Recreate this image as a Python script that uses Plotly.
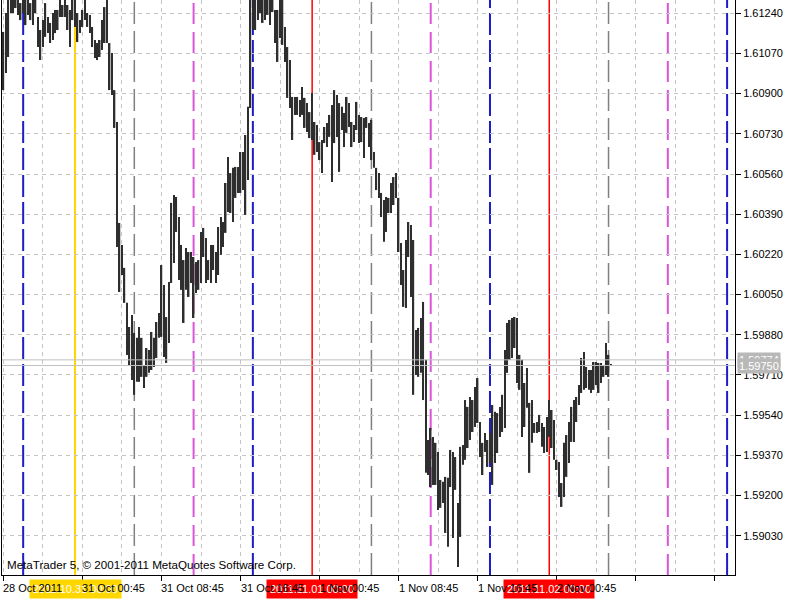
import plotly.graph_objects as go

# ---- price bars (M15), values in points (1e-5) ----
high_pts = [
    161161, 161241, 161310, 161310, 161310, 161310, 161310, 161283, 161310, 161310,
    161310, 161283, 161310, 161310, 161224, 161169, 161211, 161283, 161224, 161199,
    161241, 161254, 161254, 161310, 161275, 161310, 161275, 161254, 161310, 161310,
    161241, 161211, 161254, 161310, 161241, 161233, 161182, 161127, 161114, 161127,
    161211, 161266, 161310, 161114, 161072, 160915, 160780, 160353, 160260, 160163,
    160015, 159913, 159964, 159888, 159867, 159913, 159867, 159752, 159824, 159816,
    159892, 159867, 159934, 159972, 160175, 160091, 159955, 160103, 160438, 160471,
    160463, 160378, 160260, 160196, 160247, 160230, 160230, 160209, 160188, 160196,
    160315, 160332, 160289, 160196, 160260, 160260, 160230, 160336, 160378, 160357,
    160522, 160632, 160564, 160586, 160590, 160590, 160653, 160653, 160725, 160844,
    161310, 161310, 161310, 161310, 161310, 161310, 161310, 161310, 161310, 161310,
    161254, 161254, 161310, 161296, 161182, 161097, 161042, 160886, 160886, 160886,
    160873, 160928, 160882, 160860, 160822, 160903, 160780, 160767, 160695, 160704,
    160759, 160776, 160810, 160852, 160915, 160894, 160860, 160844, 160818, 160886,
    160860, 160780, 160767, 160865, 160810, 160801, 160797, 160801, 160776, 160789,
    160653, 160586, 160564, 160480, 160450, 160463, 160459, 160522, 160547, 160564,
    160459, 160268, 160154, 160281, 160357, 160344, 160281, 159900, 159909, 159951,
    160019, 159774, 159435, 159486, 159448, 159423, 159384, 159266, 159258, 159279,
    159275, 159393, 159384, 159363, 159169, 159406, 159414, 159604, 159575, 159617,
    159604, 159659, 159697, 159511, 159423, 159465, 159435, 159465, 159583, 159554,
    159549, 159575, 159626, 159816, 159930, 159943, 159951, 159955, 159951, 159795,
    159774, 159676, 159740, 159592, 159604, 159507, 159511, 159541, 159507, 159490,
    159532, 159604, 159562, 159520, 159351, 159342, 159253, 159423, 159456, 159511,
    159575, 159604, 159617, 159668, 159782, 159807, 159744, 159731, 159731, 159765,
    159765, 159761, 159761, 159752, 159845, 159795, 159756]

low_pts = [
    160915, 160987, 161055, 161241, 161241, 161262, 161233, 161211, 161241, 161190,
    161233, 161211, 161190, 161241, 161097, 161042, 161097, 161140, 161156, 161114,
    161127, 161156, 161169, 161224, 161224, 161224, 161169, 161097, 161211, 161182,
    161118, 161156, 161182, 161211, 161182, 161156, 161097, 161051, 161042, 161055,
    161085, 161114, 161114, 160915, 160894, 160755, 160251, 160061, 160133, 160015,
    159795, 159752, 159689, 159626, 159681, 159681, 159702, 159655, 159702, 159719,
    159731, 159744, 159782, 159867, 159871, 159786, 159761, 159845, 160099, 160184,
    160315, 160112, 160070, 159930, 160070, 160040, 160099, 159951, 160057, 160070,
    160099, 160209, 160099, 160112, 160099, 160154, 160099, 160133, 160218, 160251,
    160311, 160399, 160395, 160357, 160459, 160480, 160480, 160492, 160387, 160535,
    160839, 161169, 161169, 161211, 161241, 161199, 161211, 161233, 161190, 161245,
    161114, 161034, 161135, 161106, 161034, 160882, 160839, 160704, 160810, 160810,
    160801, 160810, 160755, 160738, 160712, 160704, 160641, 160653, 160619, 160564,
    160691, 160674, 160717, 160526, 160691, 160717, 160569, 160746, 160674, 160734,
    160759, 160674, 160695, 160746, 160691, 160695, 160628, 160755, 160674, 160619,
    160586, 160492, 160459, 160378, 160273, 160315, 160395, 160395, 160429, 160459,
    160230, 160091, 159998, 159993, 160209, 160040, 159626, 159710, 159702, 159719,
    159604, 159296, 159287, 159236, 159245, 159245, 159139, 159148, 159169, 159042,
    158983, 159236, 159021, 159224, 158898, 159025, 159330, 159351, 159401, 159435,
    159469, 159490, 159507, 159363, 159287, 159384, 159321, 159338, 159245, 159338,
    159380, 159448, 159469, 159486, 159719, 159774, 159782, 159824, 159676, 159647,
    159448, 159490, 159571, 159296, 159423, 159465, 159465, 159469, 159406, 159380,
    159384, 159448, 159401, 159351, 159308, 159194, 159152, 159194, 159279, 159338,
    159427, 159427, 159511, 159583, 159634, 159647, 159655, 159647, 159634, 159647,
    159668, 159634, 159676, 159702, 159710, 159702, 159748]

high = [v / 1e5 for v in high_pts]
low = [v / 1e5 for v in low_pts]
bar_idx = list(range(len(high)))

# ---- axes ----
y_ticks = [1.59030, 1.59200, 1.59370, 1.59540, 1.59710, 1.59880, 1.60050,
           1.60220, 1.60390, 1.60560, 1.60730, 1.60900, 1.61070, 1.61240]
y_labels = ["%.5f" % v for v in y_ticks]
y_range = [1.58864, 1.61296]
x_range = [-0.57, 296.2]

x_label_idx = [0, 32, 64, 96, 128, 160, 192, 224]
x_labels = ["28 Oct 2011", "31 Oct 00:45", "31 Oct 08:45", "31 Oct 16:45",
            "1 Nov 00:45", "1 Nov 08:45", "1 Nov 16:45", "2 Nov 00:45"]

# ---- vertical line objects (bar index) ----
blue_idx = [8, 101, 197, 293]
gray_idx = [53, 149, 245]
magenta_idx = [77, 173, 269]
yellow_idx = [29]
red_idx = [125, 221]
date_boxes = [(29, "2011.10.31 00:00", "#FFD700"),
              (125, "2011.11.01 00:00", "#FF0000"),
              (221, "2011.11.02 00:00", "#FF0000")]

bid_price = 1.59750
ask_price = 1.59774

FONT = "Liberation Sans"

fig = go.Figure()
fig.add_trace(go.Bar(
    x=bar_idx, y=[h - l for h, l in zip(high, low)], base=low,
    width=0.62, marker=dict(color="#2e2e2e", line=dict(width=0)),
    hoverinfo="skip"))

shapes = []
def vline(i, color, width, dash, layer="between"):
    shapes.append(dict(type="line", xref="x", yref="paper", x0=i, x1=i, y0=0, y1=1,
                       line=dict(color=color, width=width, dash=dash), layer=layer))

for i in blue_idx:
    vline(i, "#1C1CC8", 2, "22px,5px")
for i in gray_idx:
    vline(i, "#808080", 1.5, "22px,7px")
for i in magenta_idx:
    vline(i, "#DA55DA", 2, "21px,8px")
for i in yellow_idx:
    vline(i, "#FFD700", 2, "solid")
for i in red_idx:
    vline(i, "#FF0000", 1.5, "solid")

for p in (ask_price, bid_price):
    shapes.append(dict(type="line", xref="paper", yref="y", x0=0, x1=1, y0=p, y1=p,
                       line=dict(color="#c0c0c0", width=1), layer="above"))

annotations = []
# date boxes under the time scale
for i, txt, col in date_boxes:
    annotations.append(dict(x=i, xref="x", y=0, yref="paper", xanchor="center",
                            yanchor="top", yshift=-4, text=txt, showarrow=False,
                            bgcolor=col, borderpad=3,
                            font=dict(family=FONT, size=11, color="white")))
# time labels
for i, txt in zip(x_label_idx, x_labels):
    annotations.append(dict(x=i, xref="x", y=0, yref="paper", xanchor="left",
                            yanchor="top", yshift=-5, xshift=-2, text=txt,
                            showarrow=False,
                            font=dict(family=FONT, size=11, color="black")))
# bid / ask price labels
for p in (ask_price, bid_price):
    annotations.append(dict(x=1, xref="paper", y=p, yref="y", xanchor="left",
                            yanchor="middle", xshift=2, text="%.5f" % p,
                            showarrow=False, bgcolor="#b8b8b8", borderpad=1,
                            font=dict(family=FONT, size=11, color="white")))
# copyright
annotations.append(dict(x=0, xref="paper", y=0, yref="paper", xanchor="left",
                        yanchor="bottom", xshift=3, yshift=2,
                        text="MetaTrader 5, © 2001-2011 MetaQuotes Software Corp.",
                        showarrow=False, font=dict(family=FONT, size=11.6, color="black")))

grid_kw = dict(gridcolor="#c4c4c4", gridwidth=1, griddash="4px,4px")

fig.update_layout(
    width=800, height=600, autosize=False,
    margin=dict(l=2, r=65, t=0, b=25),
    plot_bgcolor="white", paper_bgcolor="white",
    showlegend=False, hovermode=False,
    font=dict(family=FONT, size=11, color="black"),
    shapes=shapes, annotations=annotations,
    xaxis=dict(range=x_range, tick0=0, dtick=32, ticks="outside", ticklen=5,
               tickcolor="black", showticklabels=False, showline=True,
               linecolor="black", linewidth=1, mirror=False, zeroline=False,
               showgrid=True, **grid_kw,
               minor=dict(tick0=0, dtick=16, showgrid=True, ticks="", **grid_kw)),
    yaxis=dict(range=y_range, side="right", tickmode="array", tickvals=y_ticks,
               ticktext=y_labels, ticks="outside", ticklen=5, tickcolor="black",
               showline=True, linecolor="black", linewidth=1, mirror=True,
               zeroline=False, showgrid=True, **grid_kw,
               tickfont=dict(family=FONT, size=11, color="black")),
)

fig.write_html("out.html", config={"displayModeBar": False},
               post_script="document.body.style.margin='0';document.body.style.overflow='hidden';")
